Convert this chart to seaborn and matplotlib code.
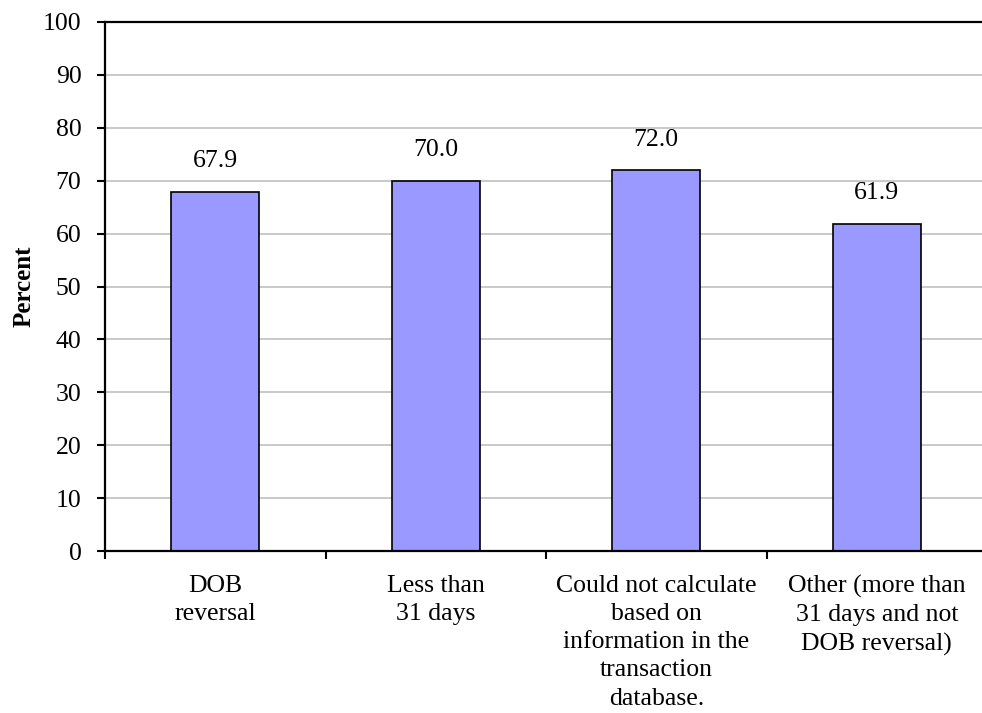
import matplotlib
matplotlib.use("Agg")
import matplotlib.pyplot as plt
import seaborn as sns
import pandas as pd

categories = [
    "DOB\nreversal",
    "Less than\n31 days",
    "Could not calculate\nbased on\ninformation in the\ntransaction\ndatabase.",
    "Other (more than\n31 days and not\nDOB reversal)",
]
values = [67.9, 70.0, 72.0, 61.9]
value_labels = ["67.9", "70.0", "72.0", "61.9"]
y_ticks = list(range(0, 101, 10))

df = pd.DataFrame({"category": categories, "percent": values})

sns.set_style("white")
plt.rcParams["font.family"] = ["Liberation Serif", "DejaVu Serif"]
plt.rcParams["text.color"] = "black"
plt.rcParams["axes.labelcolor"] = "black"
plt.rcParams["xtick.color"] = "black"
plt.rcParams["ytick.color"] = "black"
fs = 18.5

fig = plt.figure(figsize=(9.82, 7.13), dpi=100)
ax = fig.add_axes([105 / 982, 1 - 551 / 713, 882 / 982, 529 / 713])

sns.barplot(data=df, x="category", y="percent", color="#9999FF",
            edgecolor="black", linewidth=1.2, width=0.4, saturation=1, ax=ax)

for i, (v, lab) in enumerate(zip(values, value_labels)):
    ax.annotate(lab, (i, v), xytext=(0, 14), textcoords="offset points",
                ha="center", va="bottom", fontsize=fs)

ax.set_ylim(0, 100)
ax.set_xlim(-0.5, 3.5)
ax.set_yticks(y_ticks)
ax.yaxis.grid(True, color="#C0C0C0", linewidth=1.2)
ax.set_axisbelow(True)

# category ticks sit on the boundaries between bars
ax.set_xticks([-0.5, 0.5, 1.5, 2.5, 3.5])
ax.set_xticklabels([])
ax.set_xticks(range(len(categories)), minor=True)
ax.set_xticklabels(categories, minor=True, fontsize=fs, linespacing=1.37)
ax.tick_params(axis="x", which="minor", bottom=False, length=0, pad=17)
ax.tick_params(axis="x", which="major", bottom=True, length=6, width=1.5,
               direction="out")
ax.tick_params(axis="y", left=True, length=6, width=1.5, direction="out",
               labelsize=fs, pad=11)

for s in ax.spines.values():
    s.set_color("black")
    s.set_linewidth(1.6)

ax.set_xlabel("")
ax.set_ylabel("Percent", fontsize=18, fontweight="bold", labelpad=5)

fig.savefig("out.png", dpi=100)
